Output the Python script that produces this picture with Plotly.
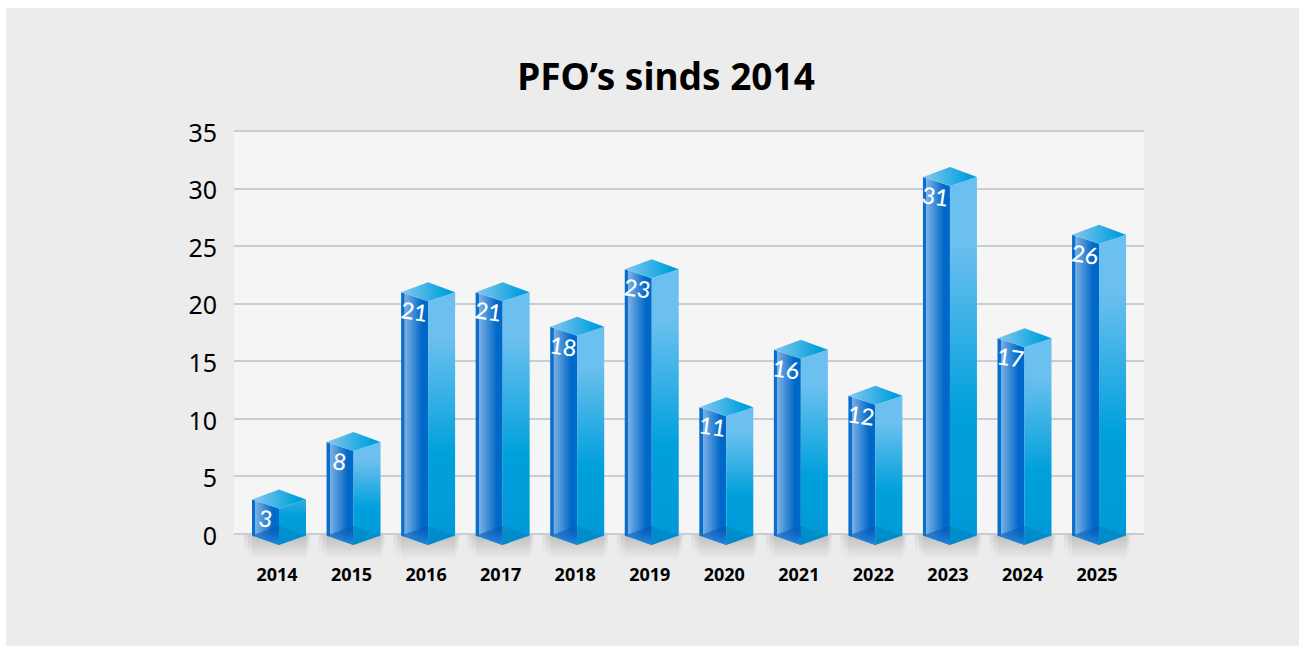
import plotly.graph_objects as go

years = ["2014", "2015", "2016", "2017", "2018", "2019", "2020", "2021", "2022", "2023", "2024", "2025"]
counts = [3, 8, 21, 21, 18, 23, 11, 16, 12, 31, 17, 26]
y_ticks = [0, 5, 10, 15, 20, 25, 30, 35]
title_text = "PFO’s sinds 2014"

W, H = 1305, 646
L, R, T, B = 234, 1144, 129, 558
PX_Y0, PX_Y35 = 534, 131
UY = (PX_Y0 - PX_Y35) / 35.0  # px per value unit
UX = 74.55                    # px per category
X0 = 279                      # px of first bar's front edge
xr = [(L - X0) / UX, (R - X0) / UX]
yr = [(PX_Y0 - B) / UY, (PX_Y0 - T) / UY]

dx = lambda p: p / UX
dy = lambda p: p / UY
HW = dx(27)

GRAD_RIGHT = [[0, "#0096d6"], [0.12, "#009cda"], [0.36, "#00a0dc"], [0.82, "#6cc0ef"], [1, "#6cc0ef"]]
fig = go.Figure()


def poly(xs, ys, **kw):
    fig.add_trace(go.Scatter(x=xs, y=ys, mode="lines", fill="toself", line=dict(width=0),
                             hoverinfo="skip", showlegend=False, **kw))


for i, v in enumerate(counts):
    c = i
    bl = dy(-1.5)      # bottom side corners
    bf = dy(-11)       # bottom front corner
    tf = v - dy(9)     # top front corner
    tb = v + dy(10)    # top back corner
    # soft shadow under the bar: stacked layers of growing width
    for grow, depth in [(8, 20), (4, 25), (0, 30)]:
        poly([c - HW - dx(grow), c + HW + dx(grow * 0.5), c + HW + dx(grow * 0.5), c - HW - dx(grow)],
             [dy(-1), dy(-1), dy(-depth), dy(-depth)],
             fillgradient=dict(type="vertical", start=dy(-depth), stop=dy(-1),
                               colorscale=[[0, "rgba(70,70,70,0)"], [1, "rgba(70,70,70,0.10)"]]))
    # left face
    poly([c - HW, c, c, c - HW], [v, tf, bf, bl],
         fillgradient=dict(type="horizontal", start=c - HW, stop=c,
                           colorscale=[[0, "#0a6fcc"], [0.12, "#0a6fcc"], [0.13, "#7cb0e4"],
                                       [0.78, "#0068c8"], [1, "#0068c8"]]))
    # right face
    poly([c, c + HW, c + HW, c], [tf, v, bl, bf],
         fillgradient=dict(type="vertical", start=bf, stop=max(v, 6), colorscale=GRAD_RIGHT))
    # top face
    poly([c - HW, c, c + HW, c], [v, tb, v, tf],
         fillgradient=dict(type="horizontal", start=c - HW, stop=c + HW,
                           colorscale=[[0, "#86c8f0"], [0.85, "#00a0dc"], [1, "#00a0dc"]]))
    # floor seen through the bar
    poly([c - HW, c, c], [bl, dy(8), bf],
         fillgradient=dict(type="vertical", start=bf, stop=dy(8),
                           colorscale=[[0, "rgba(40,140,225,0.95)"], [1, "rgba(0,80,170,0.55)"]]))
    poly([c, c + HW, c], [dy(8), bl, bf], fillcolor="rgba(0,60,120,0.12)")
    fig.add_annotation(x=c - dx(14), y=v - dy(19), text=str(v), showarrow=False, textangle=8,
                       font=dict(family="Lato", size=23, color="white", weight=500))

fig.add_shape(type="rect", xref="paper", yref="paper", layer="below",
              x0=(6 - L) / (R - L), x1=(1299 - L) / (R - L),
              y0=(B - 646) / (B - T), y1=(B - 8) / (B - T),
              fillcolor="#ececec", line_width=0)
fig.add_shape(type="rect", xref="paper", yref="y", layer="below", x0=0, x1=1, y0=0, y1=35,
              fillcolor="#f5f5f5", line_width=0)

fig.update_layout(
    width=W, height=H, margin=dict(l=L, r=W - R, t=T, b=H - B),
    paper_bgcolor="white", plot_bgcolor="rgba(0,0,0,0)", showlegend=False,
    title=dict(text=title_text, x=666 / W, xanchor="center", y=1 - 77 / H, yanchor="middle",
               font=dict(family="Noto Sans", size=37, color="black", weight="bold")),
    xaxis=dict(range=xr, tickmode="array", tickvals=list(range(len(years))), ticktext=years,
               showgrid=False, zeroline=False, showline=False, ticks="outside", ticklen=0,
               tickcolor="rgba(0,0,0,0)", ticklabelshift=-2,
               tickfont=dict(family="Noto Sans", size=18, color="black", weight="bold")),
    yaxis=dict(range=yr, tickmode="array", tickvals=y_ticks, showgrid=True, gridcolor="#c5ced7",
               gridwidth=2, zeroline=False, showline=False, ticks="outside", ticklen=11,
               tickcolor="rgba(0,0,0,0)", ticklabelshift=2,
               tickfont=dict(family="Noto Sans", size=25, color="black")),
)

fig.write_html("out.html", config=dict(displayModeBar=False),
               post_script="document.body.style.margin='0';document.body.style.overflow='hidden';")
